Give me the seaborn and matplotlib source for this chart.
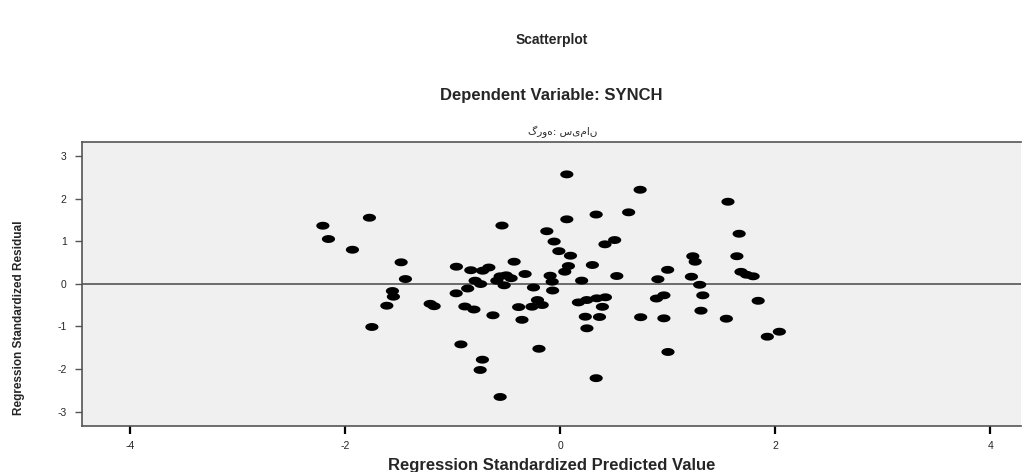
import numpy as np
import pandas as pd
import matplotlib
matplotlib.use("Agg")
import matplotlib.pyplot as plt
from matplotlib.path import Path
import seaborn as sns

# Values (standardized predicted value, standardized residual)
pred = [-2.207, -2.155, -1.774, -1.932, -1.479, -1.439, -1.560, -1.551, -1.612, -1.751,
        -1.209, -1.172, -0.965, -0.967, -0.860, -0.831, -0.721, -0.663, -0.791, -0.740,
        -0.886, -0.802, -0.625, -0.541, -0.428, -0.326, -0.589, -0.558, -0.502, -0.456,
        -0.521, -0.248, -0.386, -0.355, -0.211, -0.262, -0.167, -0.197, -0.923, -0.723,
        -0.744, -0.558, 0.062, 0.062, -0.124, -0.056, -0.012, 0.096, 0.077, 0.043,
        -0.093, -0.074, -0.070, 0.200, 0.170, 0.248, 0.341, 0.421, 0.393, 0.234,
        0.366, 0.249, 0.744, 0.335, 0.637, 0.417, 0.507, 0.300, 0.527, 0.909,
        1.000, 1.234, 1.256, 1.221, 1.298, 1.327, 1.310, 1.561, 1.665, 1.644,
        1.682, 1.733, 1.795, 1.842, 1.546, 1.927, 2.039, 0.749, 0.965, 0.896,
        0.965, 1.003, 0.335]
resid = [1.362, 1.050, 1.549, 0.799, 0.504, 0.112, -0.169, -0.302, -0.513, -1.012,
         -0.469, -0.525, 0.401, -0.223, -0.110, 0.319, 0.307, 0.382, 0.073, -0.005,
         -0.532, -0.602, -0.738, 1.366, 0.518, 0.230, 0.073, 0.176, 0.199, 0.131,
         -0.035, -0.087, -0.546, -0.844, -0.380, -0.537, -0.497, -1.523, -1.420, -1.779,
         -2.020, -2.653, 2.566, 1.512, 1.233, 0.991, 0.766, 0.659, 0.417, 0.284,
         0.190, 0.049, -0.157, 0.075, -0.436, -0.380, -0.340, -0.316, -0.539, -0.771,
         -0.778, -1.043, 2.205, 1.624, 1.676, 0.926, 1.026, 0.441, 0.183, 0.108,
         0.328, 0.647, 0.518, 0.166, -0.023, -0.270, -0.630, 1.924, 1.174, 0.647,
         0.281, 0.213, 0.176, -0.398, -0.818, -1.240, -1.123, -0.783, -0.809, -0.345,
         -0.270, -1.598, -2.212]
x_ticks = [-4, -2, 0, 2, 4]
y_ticks = [-3, -2, -1, 0, 1, 2, 3]

df = pd.DataFrame({"pred": pred, "resid": resid})

sns.set_style("white")
plt.rcParams["font.family"] = ["Liberation Sans", "DejaVu Sans"]
plt.rcParams["axes.unicode_minus"] = False

fig = plt.figure(figsize=(10.23, 4.72), dpi=100)
ax = fig.add_axes([0.0802, 0.0975, 0.918, 0.6015])
ax.set_facecolor("#f0f0f0")

# flat ellipse marker like the SPSS dots
t = np.linspace(0, 2 * np.pi, 40)
ellipse = Path(np.column_stack([np.cos(t), 0.6 * np.sin(t)]), closed=True)

ax.axhline(0, color="#555555", lw=1.2, zorder=1)
sns.scatterplot(data=df, x="pred", y="resid", ax=ax, marker=ellipse, s=90,
                color="black", edgecolor="none", linewidth=0, zorder=3)

ax.set_xlim(-4.447, 4.288)
ax.set_ylim(-3.333, 3.323)
ax.set_xticks(x_ticks)
ax.set_yticks(y_ticks)
ax.tick_params(axis="x", direction="out", length=6, width=1.6, color="black",
               labelsize=7.5, pad=5, bottom=True)
ax.tick_params(axis="y", direction="out", length=5, width=1, color="#555555",
               labelsize=7.5, pad=6, left=True)
for side in ["left", "bottom", "top"]:
    ax.spines[side].set_color("#555555")
    ax.spines[side].set_linewidth(1.2)
ax.spines["right"].set_visible(False)

ax.set_xlabel("Regression Standardized Predicted Value", fontsize=12,
              fontweight="bold", labelpad=5)
ax.set_ylabel("Regression Standardized Residual", fontsize=8.5, fontweight="bold",
              family=["Liberation Sans Narrow", "Liberation Sans", "DejaVu Sans"])
ax.yaxis.set_label_coords(-0.061, 0.38)

fig.text(0.539, 0.915, "Scatterplot", ha="center", va="center",
         fontsize=10, fontweight="bold")
fig.text(0.539, 0.798, "Dependent Variable: SYNCH", ha="center", va="center",
         fontsize=12, fontweight="bold")
fig.text(0.55, 0.72, "گروه: سیمان", ha="center", va="center", fontsize=7.5,
         family=["DejaVu Sans"])

fig.savefig("out.png", dpi=100)
